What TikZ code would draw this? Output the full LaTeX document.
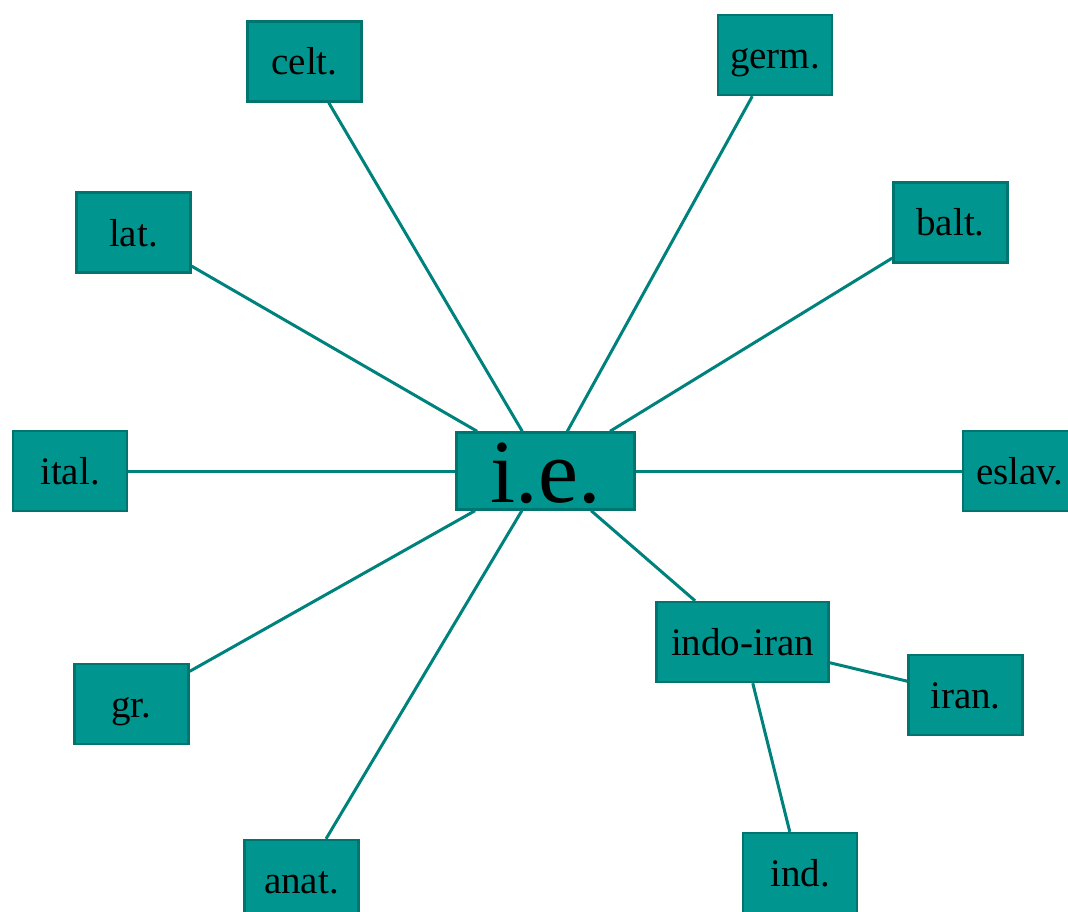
\documentclass[tikz,border=0pt]{standalone}
\usepackage{fontspec}
\setmainfont{Liberation Serif}
\usepackage{tikz}
\definecolor{boxfill}{HTML}{00968F}
\definecolor{boxedge}{HTML}{00746F}
\definecolor{wire}   {HTML}{00827C}
\newcommand{\labsize}{\fontsize{39}{44}\selectfont}
\newcommand{\hubsize}{\fontsize{90}{96}\selectfont}

\tikzset{
  lang/.style={draw=boxedge, fill=boxfill, line width=2.4pt, inner sep=0pt,
    minimum width=114pt, minimum height=80pt, font=\labsize,
    text height=27pt, text depth=0pt},
  link/.style={draw=wire, line width=3pt}
}

\begin{document}
\begin{tikzpicture}[x=1pt, y=-1pt]
  \useasboundingbox (0,0) rectangle (1068,912);
  \node[lang, minimum width=178pt, minimum height=77pt, font=\hubsize,
    text height=62pt] (ie) at (545.5,471) {i.e.};
  \node[lang] (celt)  at (304.5,61.5) {celt.};
  \node[lang] (germ)  at (775,55)     {germ.};
  \node[lang] (lat)   at (133.5,232.5) {lat.};
  \node[lang] (balt)  at (950.5,222.5) {balt.};
  \node[lang] (ital)  at (70,471)     {ital.};
  \node[lang] (eslav) at (1020,471)   {eslav.};
  \node[lang] (gr)    at (131.5,704)  {gr.};
  \node[lang] (anat)  at (301.5,880)  {anat.};
  \node[lang, minimum width=172pt] (indoiran) at (742.5,642) {indo-iran};
  \node[lang] (iran)  at (965.5,695)  {iran.};
  \node[lang] (ind)   at (800,873)    {ind.};
  \foreach \n in {celt,germ,lat,balt,ital,eslav,gr,anat,indoiran}
    \draw[link] (ie) -- (\n);
  \draw[link] (indoiran) -- (iran);
  \draw[link] (indoiran) -- (ind);
\end{tikzpicture}
\end{document}
